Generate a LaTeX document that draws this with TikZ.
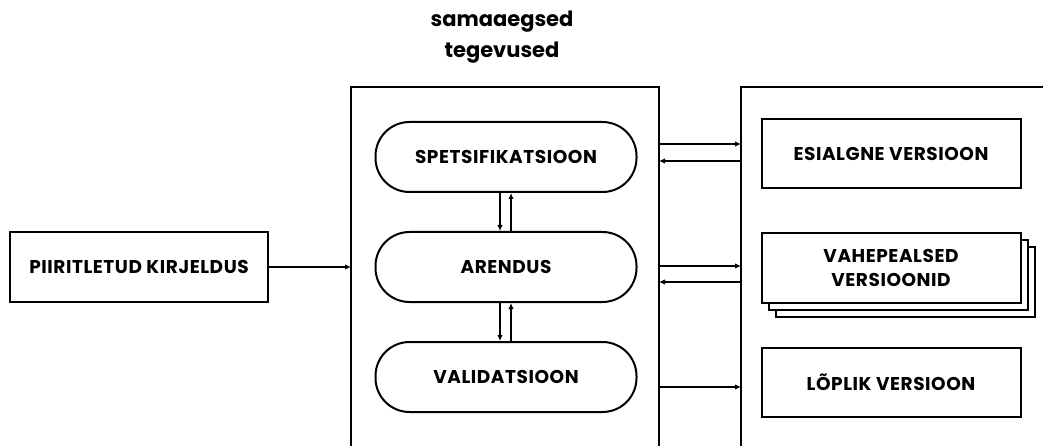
\documentclass[tikz,border=0pt]{standalone}
\usepackage{fontspec}
\setmainfont{Poppins}
\newfontfamily\capsfont{Poppins}[LetterSpace=3]
\usetikzlibrary{arrows.meta}
\begin{document}
\begin{tikzpicture}[x=1pt,y=-1pt,
  line join=miter,
  every node/.style={font=\bfseries},
  frame/.style={draw=black, line width=2pt},
  box/.style={draw=black, line width=2pt, fill=white, minimum width=258pt, minimum height=69pt, inner sep=0pt, align=center, font=\capsfont\fontsize{18.5}{24}\selectfont\bfseries},
  pill/.style={box, rounded corners=34pt, minimum width=261pt, minimum height=70pt},
  link/.style={line width=1.9pt, -{Latex[length=6pt,width=5.5pt]}}
]
\useasboundingbox (0,0) rectangle (1043,446);
\clip (0,0) rectangle (1043,446);

% heading over the activity block
\node[align=center, font=\fontsize{21}{31}\selectfont\bfseries] (head) at (502,37) {samaaegsed\\tegevused};

% the two large frames, open towards the bottom and right
\coordinate (midNW) at (351,87);
\coordinate (midNE) at (659,87);
\coordinate (rgtNW) at (741,87);
\draw[frame] (351,470) -- (midNW) -- (midNE) -- (659,470);
\draw[frame] (741,470) -- (rgtNW) -- (1060,87);

% concurrent activities
\node[pill] (spec) at (506,157) {SPETSIFIKATSIOON};
\node[pill] (dev)  at (506,267) {ARENDUS};
\node[pill] (val)  at (506,377) {VALIDATSIOON};

% input description
\node[box] (desc) at (139,267) {PIIRITLETUD KIRJELDUS};

% produced versions
\node[box, minimum width=259pt] (v1) at (891,154) {ESIALGNE VERSIOON};
\node[box, minimum width=259pt] (v2c) at (905,282) {};
\node[box, minimum width=259pt] (v2b) at (898,275) {};
\node[box, minimum width=259pt] (v2) at (891,268) {VAHEPEALSED\\VERSIOONID};
\node[box, minimum width=259pt] (v3) at (891,382) {LÕPLIK VERSIOON};

% links between activities
\draw[link] ([xshift=-6pt]spec.south) -- ([xshift=-6pt]dev.north);
\draw[link] ([xshift=5pt]dev.north) -- ([xshift=5pt]spec.south);
\draw[link] ([xshift=-6pt]dev.south) -- ([xshift=-6pt]val.north);
\draw[link] ([xshift=5pt]val.north) -- ([xshift=5pt]dev.south);

% input arrow
\draw[link] (desc.east) -- (desc.east -| midNW);

% exchanges between the two frames
\draw[link] (midNE |- 0,144) -- (rgtNW |- 0,144);
\draw[link] (rgtNW |- 0,161) -- (midNE |- 0,161);
\draw[link] (midNE |- 0,266) -- (rgtNW |- 0,266);
\draw[link] (rgtNW |- 0,282) -- (midNE |- 0,282);
\draw[link] (midNE |- 0,387) -- (rgtNW |- 0,387);
\end{tikzpicture}
\end{document}
